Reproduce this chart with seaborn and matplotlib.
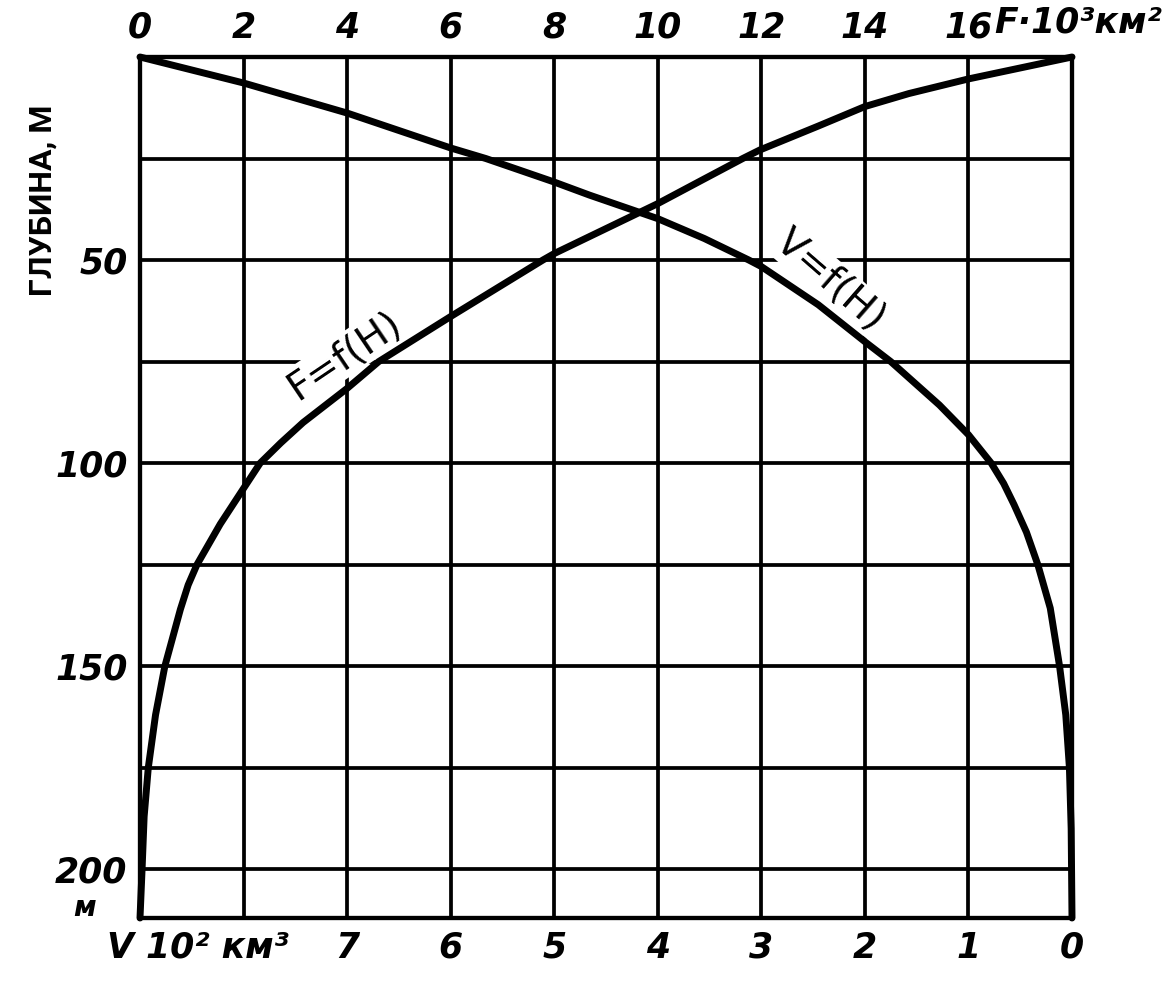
import matplotlib
matplotlib.use('Agg')
import matplotlib.pyplot as plt
import matplotlib.transforms as mtransforms
import seaborn as sns
import pandas as pd

depth_f = [0, 5.4, 9, 12.2, 17, 22.9, 25, 30, 36.1, 48.4, 50, 63.9, 75, 81.6,
           90, 95, 100, 107, 115, 125, 130, 136, 150, 162, 175, 187, 200, 212]
area_f = [18, 16, 14.85, 14, 13.1, 11.97, 11.64, 10.9, 10, 8, 7.78, 6, 4.61,
          4, 3.15, 2.72, 2.32, 1.96, 1.55, 1.1, 0.93, 0.78, 0.48, 0.3, 0.16,
          0.08, 0.04, 0]

# depth (m) and volume V (10^2 km^3), curve V=f(H)
depth_v = [0, 6.4, 13.8, 22.4, 25, 30.7, 34, 39.8, 44.7, 50, 51.6, 61, 70.1,
           75, 85.7, 93, 100, 105, 110.2, 117, 125, 135.7, 150, 162, 175,
           190, 212]
volume_v = [9, 8, 7, 6, 5.66, 5.01, 4.66, 4, 3.55, 3.12, 3, 2.45, 2, 1.75,
            1.28, 1, 0.78, 0.66, 0.56, 0.44, 0.33, 0.21, 0.12, 0.06, 0.025,
            0.008, 0]

f_ticks = [0, 2, 4, 6, 8, 10, 12, 14, 16, 18]
f_labels = ['0', '2', '4', '6', '8', '10', '12', '14', '16', '']
v_ticks = [0, 1, 2, 3, 4, 5, 6, 7, 8, 9]
v_labels = ['0', '1', '2', '3', '4', '5', '6', '7', '', '']
h_ticks = [0, 25, 50, 75, 100, 125, 150, 175, 200]
h_labels = ['', '', '50', '', '100', '', '150', '', '200']

sns.set_style('white')
plt.rcParams['font.family'] = ['DejaVu Sans']
plt.rcParams['text.color'] = 'black'
plt.rcParams['xtick.color'] = 'black'
plt.rcParams['ytick.color'] = 'black'

fig = plt.figure(figsize=(11.64, 9.84), dpi=100)
ax = fig.add_axes([140/1164, 1-918/984, (1072-140)/1164, (918-57)/984])

df_f = pd.DataFrame({'F': area_f, 'H': depth_f})
df_v = pd.DataFrame({'V': volume_v, 'H': depth_v})

sns.lineplot(data=df_f, x='F', y='H', sort=False, estimator=None, ax=ax,
             color='black', lw=5, clip_on=False, zorder=5)
ax.set_xlim(0, 18)
ax.set_ylim(212, 0)

ax2 = ax.twiny()
sns.lineplot(data=df_v, x='V', y='H', sort=False, estimator=None, ax=ax2,
             color='black', lw=5, clip_on=False, zorder=5)
ax2.set_xlim(9, 0)
ax2.set_ylim(212, 0)

tick_font = dict(fontsize=25, fontweight='bold', fontstyle='italic')

ax.xaxis.tick_top()
ax.set_xticks(f_ticks)
ax.set_xticklabels(f_labels, **tick_font)
ax.set_yticks(h_ticks)
ax.set_yticklabels(h_labels, **tick_font)
ax.tick_params(length=0, pad=9)
ax.set_xlabel('')
ax.set_ylabel('')

ax2.xaxis.tick_bottom()
ax2.set_xticks(v_ticks)
ax2.set_xticklabels(v_labels, **tick_font)
ax2.tick_params(length=0, pad=9)
ax2.set_xlabel('')
ax2.set_ylabel('')

ax.grid(True, color='black', lw=2.7)
ax.set_axisbelow(True)
for a in (ax, ax2):
    for s in a.spines.values():
        s.set_color('black')
        s.set_linewidth(3)

# units next to the scales
ax.text(16.5, 1.02, 'F·10³км²',
        transform=mtransforms.blended_transform_factory(ax.transData, ax.transAxes),
        ha='left', va='bottom', **tick_font)
ax.text(-0.035, -0.015, 'V 10² км³', transform=ax.transAxes, ha='left', va='top', **tick_font)
ax.text(-0.06, 209.5, 'м',
        transform=mtransforms.blended_transform_factory(ax.transAxes, ax.transData),
        ha='center', va='center', fontsize=20, fontweight='bold', fontstyle='italic')

fig.text(43/1164, 1-200/984, 'ГЛУБИНА, М', rotation=90, ha='center', va='center',
         fontsize=23, fontweight='bold', family=['Roboto', 'DejaVu Sans'])

# curve names, with a white backing that cuts the grid like in the drawing
blank = dict(facecolor='white', edgecolor='none', pad=1)
ax.text(3.95, 73.5, 'F=f(H)', rotation=34, ha='center', va='center', fontsize=28,
        bbox=blank, zorder=3)
ax2.text(2.33, 55, 'V=f(H)', rotation=-41, ha='center', va='center', fontsize=28,
         bbox=blank, zorder=3)

fig.savefig('out.png', dpi=100)
